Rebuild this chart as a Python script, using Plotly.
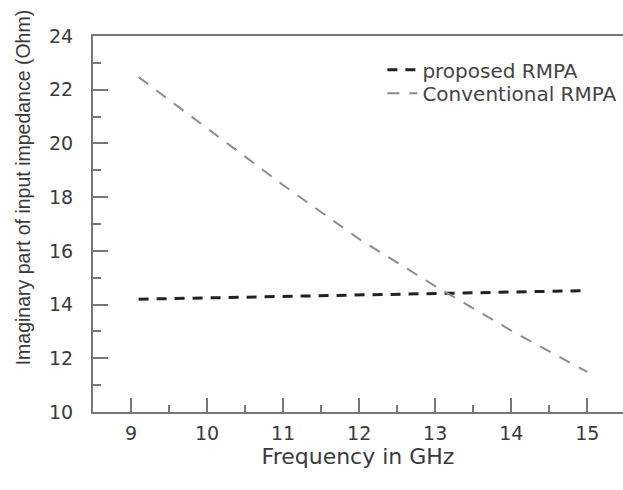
import plotly.graph_objects as go

# Data
freq = [9.1, 10, 11, 12, 13, 14, 15]
proposed = [14.2, 14.25, 14.3, 14.36, 14.42, 14.47, 14.52]
conventional = [22.47, 20.58, 18.45, 16.44, 14.69, 13.03, 11.49]

x_ticks = [9, 10, 11, 12, 13, 14, 15]
y_ticks = [10, 12, 14, 16, 18, 20, 22, 24]

AX = "#777777"
TXT = "#3a3a3a"
TICKFONT = dict(family="DejaVu Sans", size=19, color=TXT)
LEGFONT = dict(family="DejaVu Sans", size=20, color="#444444")

fig = go.Figure()
fig.add_trace(go.Scatter(
    x=freq, y=proposed, mode="lines", name="proposed RMPA", legend="legend",
    line=dict(color="#222222", width=3, dash="10px,8px"),
))
fig.add_trace(go.Scatter(
    x=freq, y=conventional, mode="lines", name="Conventional RMPA", legend="legend2",
    line=dict(color="#8c8c8c", width=2, dash="12px,10px"),
))

fig.update_layout(
    width=623, height=490,
    margin=dict(l=93, r=0, t=36, b=78, autoexpand=False),
    paper_bgcolor="white", plot_bgcolor="white",
    showlegend=True,
    legend=dict(
        x=0.546, y=0.91, xanchor="left", yanchor="middle",
        bgcolor="rgba(0,0,0,0)", borderwidth=0, font=LEGFONT,
    ),
    legend2=dict(
        x=0.546, y=0.848, xanchor="left", yanchor="middle",
        bgcolor="rgba(0,0,0,0)", borderwidth=0, font=LEGFONT,
    ),
    xaxis=dict(
        range=[8.5, 15.47], tickvals=x_ticks, ticktext=[str(v) for v in x_ticks],
        showgrid=False, zeroline=False, automargin=False,
        showline=True, linecolor=AX, linewidth=2, mirror=True,
        ticks="inside", ticklen=14, tickwidth=2, tickcolor=AX,
        minor=dict(dtick=0.5, tick0=8.5, ticks="inside", ticklen=7, tickwidth=2, tickcolor=AX),
        tickfont=TICKFONT, ticklabelstandoff=3,
        title=dict(text="Frequency in GHz", font=dict(family="DejaVu Sans", size=22, color=TXT), standoff=6),
    ),
    yaxis=dict(
        range=[10, 24], tickvals=y_ticks, ticktext=[str(v) for v in y_ticks],
        showgrid=False, zeroline=False, automargin=False,
        showline=True, linecolor=AX, linewidth=2, mirror=False,
        ticks="inside", ticklen=15, tickwidth=2, tickcolor=AX,
        minor=dict(dtick=1, tick0=10, ticks="inside", ticklen=8, tickwidth=2, tickcolor=AX),
        tickfont=TICKFONT, ticklabelstandoff=14,
    ),
    annotations=[dict(
        text="Imaginary part of input impedance (Ohm)",
        xref="paper", yref="paper", x=-0.133, y=1.075, xanchor="center", yanchor="top",
        textangle=-90, showarrow=False,
        font=dict(family="Liberation Sans", size=19.5, color=TXT),
    )],
)

fig.write_html(
    "out.html",
    config={"displayModeBar": False},
    post_script="document.body.style.margin='0';document.body.style.overflow='hidden';",
)
